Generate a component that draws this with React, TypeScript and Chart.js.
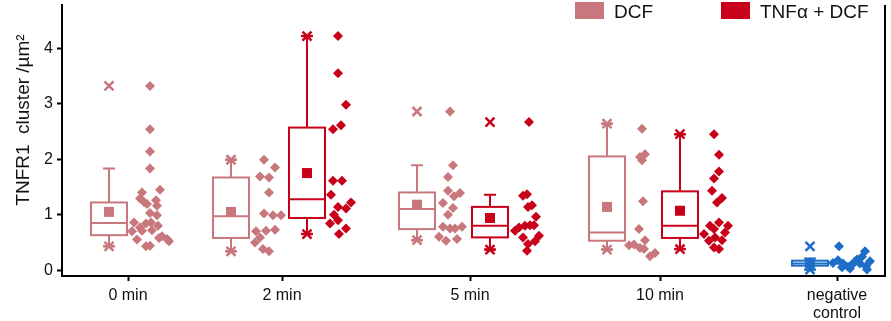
import React, { useEffect, useRef } from 'react';
import { Chart, registerables } from 'chart.js';
Chart.register(...registerables);

// ---------- data ----------
const groupLabels: (string | string[])[] = ['0 min', '2 min', '5 min', '10 min', ['negative', 'control']];
const groupTickX = [128, 282, 470, 660, 837];
const yTicks = [0, 1, 2, 3, 4];
const yTitle = 'TNFR1  cluster /µm²';
const legendLabels = ['DCF', 'TNFα + DCF'];

const COLOR_DCF = '#C8787D';
const COLOR_TNF = '#C8001A';
const COLOR_NEG = '#1E6EC8';

// box statistics (DCF: 0, 2, 5, 10 min)
const dcfBoxX = [109, 231, 417, 607];
const dcfQ1 = [0.63, 0.58, 0.74, 0.53];
const dcfMedian = [0.85, 0.97, 1.10, 0.68];
const dcfQ3 = [1.22, 1.67, 1.40, 2.05];
const dcfMean = [1.05, 1.05, 1.18, 1.14];
const dcfWhiskerLow = [0.43, 0.34, 0.54, 0.37];
const dcfWhiskerHigh = [1.83, 1.99, 1.89, 2.64];
const dcfMin = [0.43, 0.34, 0.54, 0.37];
const dcfMax = [3.32, 1.99, 2.86, 2.64];

// TNFα + DCF: 2, 5, 10 min
const tnfBoxX = [307, 490, 680];
const tnfQ1 = [0.94, 0.59, 0.58];
const tnfMedian = [1.28, 0.80, 0.80];
const tnfQ3 = [2.57, 1.14, 1.42];
const tnfMean = [1.75, 0.94, 1.07];
const tnfWhiskerLow = [0.65, 0.37, 0.38];
const tnfWhiskerHigh = [4.22, 1.36, 2.45];
const tnfMin = [0.65, 0.37, 0.38];
const tnfMax = [4.22, 2.67, 2.45];

// negative control
const negBoxX = [810];
const negQ1 = [0.08];
const negMedian = [0.12];
const negQ3 = [0.17];
const negMean = [0.13];
const negWhiskerLow = [0.01];
const negWhiskerHigh = [0.21];
const negMin = [0.01];
const negMax = [0.43];

// raw points: column centre, values, horizontal jitter
const dcf0Center = 150;
const dcf0Values = [3.32, 2.54, 2.14, 1.83, 1.45, 1.40, 1.29, 1.23, 1.26, 1.16, 1.19, 1.03, 0.99, 0.86, 0.84, 0.86, 0.80, 0.77, 0.70, 0.71, 0.72, 0.55, 0.58, 0.56, 0.61, 0.52, 0.44, 0.43];
const dcf0Jitter = [0, 0, 0, 0, 10, -8, -10, -6, 6, 7, -3, 0, 7, -16, -4, 1, 8, -10, -18, -8, 2, -13, 9, 17, 12, 19, 0, -4];

const dcf2Center = 268;
const dcf2Values = [1.99, 1.85, 1.69, 1.67, 1.40, 1.02, 0.99, 0.99, 0.73, 0.70, 0.71, 0.59, 0.50, 0.38, 0.34];
const dcf2Jitter = [-4, 7, -8, 1, 1, -4, 5, 13, 7, -12, -2, -8, -13, -5, 1];

const tnf2Center = 338;
const tnf2Values = [4.22, 3.55, 2.98, 2.54, 2.61, 1.61, 1.61, 1.36, 1.22, 1.14, 1.11, 1.00, 0.90, 0.84, 0.75, 0.65];
const tnf2Jitter = [0, 0, 8, -5, 3, -5, 4, -7, 13, 0, 8, -4, 0, -8, 8, 1];

const dcf5Center = 450;
const dcf5Values = [2.86, 1.89, 1.68, 1.43, 1.39, 1.33, 1.21, 1.12, 1.00, 0.78, 0.75, 0.75, 0.78, 0.60, 0.53, 0.56];
const dcf5Jitter = [0, 3, -2, -2, 10, 4, -7, 3, -2, -7, 0, 5, 12, -11, -4, 7];

const tnf5Center = 528;
const tnf5Values = [2.67, 1.34, 1.37, 1.14, 1.17, 0.96, 0.80, 0.81, 0.81, 0.77, 0.71, 0.59, 0.62, 0.52, 0.47, 0.35];
const tnf5Jitter = [1, -5, -1, 0, 4, 8, -3, 2, 6, -9, -13, -5, 11, 7, 0, -1];

const dcf10Center = 643;
const dcf10Values = [2.55, 2.09, 2.04, 1.98, 1.24, 0.74, 0.54, 0.45, 0.46, 0.40, 0.38, 0.25, 0.31];
const dcf10Jitter = [-1, 2, -3, -1, 0, -4, 2, -14, -9, -3, 1, 7, 12];

const tnf10Center = 716;
const tnf10Values = [2.45, 2.08, 1.78, 1.65, 1.43, 1.30, 1.22, 0.86, 0.80, 0.80, 0.74, 0.68, 0.65, 0.59, 0.54, 0.53, 0.41, 0.38];
const tnf10Jitter = [-2, 3, 3, -2, -4, 6, 1, 3, 12, -6, -2, 9, -12, -1, 6, -7, -2, 3];

const negCenter = 850;
const negValues = [0.43, 0.34, 0.13, 0.18, 0.12, 0.06, 0.12, 0.19, 0.24, 0.12, 0.07, 0.16, 0.01, 0.05, 0.03, 0.15];
const negJitter = [-11, 15, -17, -12, -7, -2, 3, 7, 12, 10, 16, 20, 17, -8, 0, 5];

// ---------- helpers ----------
type BoxSeries = {
  x: number[]; q1: number[]; med: number[]; q3: number[]; mean: number[];
  lo: number[]; hi: number[]; min: number[]; max: number[]; color: string;
};

const boxSeries: BoxSeries[] = [
  { x: dcfBoxX, q1: dcfQ1, med: dcfMedian, q3: dcfQ3, mean: dcfMean, lo: dcfWhiskerLow, hi: dcfWhiskerHigh, min: dcfMin, max: dcfMax, color: COLOR_DCF },
  { x: tnfBoxX, q1: tnfQ1, med: tnfMedian, q3: tnfQ3, mean: tnfMean, lo: tnfWhiskerLow, hi: tnfWhiskerHigh, min: tnfMin, max: tnfMax, color: COLOR_TNF },
  { x: negBoxX, q1: negQ1, med: negMedian, q3: negQ3, mean: negMean, lo: negWhiskerLow, hi: negWhiskerHigh, min: negMin, max: negMax, color: COLOR_NEG },
];

const pts = (center: number, values: number[], jitter: number[]) =>
  values.map((v, i) => ({ x: center + jitter[i], y: v }));

const FONT = '"Liberation Sans", Arial, Helvetica, sans-serif';

function drawCross(ctx: CanvasRenderingContext2D, x: number, y: number, s: number) {
  ctx.beginPath();
  ctx.moveTo(x - s, y - s); ctx.lineTo(x + s, y + s);
  ctx.moveTo(x - s, y + s); ctx.lineTo(x + s, y - s);
  ctx.stroke();
}
function drawAsterisk(ctx: CanvasRenderingContext2D, x: number, y: number, s: number) {
  drawCross(ctx, x, y, s);
  ctx.beginPath();
  ctx.moveTo(x - s - 1, y); ctx.lineTo(x + s + 1, y);
  ctx.stroke();
}

const boxPlugin = {
  id: 'boxes',
  beforeDatasetsDraw(chart: any) {
    const { ctx, scales } = chart;
    const xs = scales.x, ys = scales.y;
    ctx.save();
    for (const s of boxSeries) {
      for (let i = 0; i < s.x.length; i++) {
        const cx = xs.getPixelForValue(s.x[i]);
        const half = xs.getPixelForValue(s.x[i] + 18) - cx;
        const capHalf = xs.getPixelForValue(s.x[i] + 6) - cx;
        const yq1 = ys.getPixelForValue(s.q1[i]);
        const yq3 = ys.getPixelForValue(s.q3[i]);
        const ymed = ys.getPixelForValue(s.med[i]);
        const ylo = ys.getPixelForValue(s.lo[i]);
        const yhi = ys.getPixelForValue(s.hi[i]);
        const ymean = ys.getPixelForValue(s.mean[i]);
        ctx.strokeStyle = s.color;
        ctx.fillStyle = s.color;
        ctx.lineWidth = 2;
        ctx.strokeRect(cx - half, yq3, 2 * half, yq1 - yq3);
        ctx.beginPath();
        ctx.moveTo(cx - half, ymed); ctx.lineTo(cx + half, ymed);
        ctx.moveTo(cx, yq3); ctx.lineTo(cx, yhi);
        ctx.moveTo(cx, yq1); ctx.lineTo(cx, ylo);
        ctx.moveTo(cx - capHalf, yhi); ctx.lineTo(cx + capHalf, yhi);
        ctx.moveTo(cx - capHalf, ylo); ctx.lineTo(cx + capHalf, ylo);
        ctx.stroke();
        ctx.fillRect(cx - 5, ymean - 5, 10, 10);
        ctx.lineWidth = 2.5;
        const ymin = ys.getPixelForValue(s.min[i]);
        const ymax = ys.getPixelForValue(s.max[i]);
        if (s.min[i] === s.lo[i]) drawAsterisk(ctx, cx, ymin, 4.5); else drawCross(ctx, cx, ymin, 4.5);
        if (s.max[i] === s.hi[i]) drawAsterisk(ctx, cx, ymax, 4.5); else drawCross(ctx, cx, ymax, 4.5);
      }
    }
    ctx.restore();
  },
  afterDraw(chart: any) {
    const { ctx, chartArea } = chart;
    ctx.save();
    // right frame line
    ctx.strokeStyle = '#000';
    ctx.lineWidth = 2;
    ctx.beginPath();
    ctx.moveTo(chartArea.right, chartArea.top);
    ctx.lineTo(chartArea.right, chartArea.bottom + 1);
    ctx.stroke();
    // y title
    ctx.fillStyle = '#111';
    ctx.font = `19px ${FONT}`;
    ctx.textAlign = 'center';
    ctx.textBaseline = 'alphabetic';
    ctx.translate(29, 120);
    ctx.rotate(-Math.PI / 2);
    ctx.fillText(yTitle, 0, 0);
    ctx.restore();
    // legend
    ctx.save();
    ctx.font = `19px ${FONT}`;
    ctx.textBaseline = 'alphabetic';
    ctx.textAlign = 'left';
    const legendColors = [COLOR_DCF, COLOR_TNF];
    const swatchX = [575, 721];
    legendLabels.forEach((lab, i) => {
      ctx.fillStyle = legendColors[i];
      ctx.fillRect(swatchX[i], 2, 29, 17);
      ctx.fillStyle = '#111';
      ctx.fillText(lab, swatchX[i] + 39, 18);
    });
    ctx.restore();
  },
};

export default function App() {
  const ref = useRef<HTMLCanvasElement>(null);
  useEffect(() => {
    if (!ref.current) return;
    const scatterDs = (data: any[], color: string) => ({
      type: 'scatter' as const,
      data,
      backgroundColor: color,
      borderColor: color,
      borderWidth: 0,
      pointStyle: 'rectRot',
      pointRadius: 5,
      pointHoverRadius: 5,
    });
    const chart = new Chart(ref.current, {
      type: 'scatter',
      data: {
        datasets: [
          scatterDs(pts(dcf0Center, dcf0Values, dcf0Jitter), COLOR_DCF),
          scatterDs(pts(dcf2Center, dcf2Values, dcf2Jitter), COLOR_DCF),
          scatterDs(pts(tnf2Center, tnf2Values, tnf2Jitter), COLOR_TNF),
          scatterDs(pts(dcf5Center, dcf5Values, dcf5Jitter), COLOR_DCF),
          scatterDs(pts(tnf5Center, tnf5Values, tnf5Jitter), COLOR_TNF),
          scatterDs(pts(dcf10Center, dcf10Values, dcf10Jitter), COLOR_DCF),
          scatterDs(pts(tnf10Center, tnf10Values, tnf10Jitter), COLOR_TNF),
          scatterDs(pts(negCenter, negValues, negJitter), COLOR_NEG),
        ],
      },
      options: {
        animation: false,
        responsive: false,
        events: [],
        layout: { padding: { left: 0, right: 6, top: 0, bottom: 0 } },
        plugins: { legend: { display: false }, tooltip: { enabled: false } },
        scales: {
          x: {
            type: 'linear',
            min: 62,
            max: 885,
            afterBuildTicks: (s: any) => { s.ticks = groupTickX.map((v) => ({ value: v })); },
            afterFit: (s: any) => { s.height = 45; s.paddingLeft = 0; s.paddingRight = 0; },
            ticks: {
              autoSkip: false,
              maxRotation: 0,
              padding: 6,
              color: '#111',
              font: { family: FONT, size: 16, lineHeight: 1.1 },
              callback: (_v: any, i: number) => groupLabels[i] as any,
            },
            grid: { display: true, drawOnChartArea: false, drawTicks: true, tickLength: 5, tickColor: '#000', tickWidth: 2, color: 'rgba(0,0,0,0)' },
            border: { display: true, color: '#000', width: 2 },
          },
          y: {
            type: 'linear',
            min: -0.106,
            max: 4.78,
            afterBuildTicks: (s: any) => { s.ticks = yTicks.map((v) => ({ value: v })); },
            afterFit: (s: any) => { s.width = 62; s.paddingTop = 0; s.paddingBottom = 0; },
            ticks: {
              padding: 4,
              color: '#111',
              font: { family: FONT, size: 16 },
              callback: (v: any) => String(v),
            },
            grid: { display: true, drawOnChartArea: false, drawTicks: true, tickLength: 5, tickColor: '#000', tickWidth: 2, color: 'rgba(0,0,0,0)' },
            border: { display: true, color: '#000', width: 2 },
          },
        },
      },
      plugins: [boxPlugin],
    } as any);
    return () => chart.destroy();
  }, []);
  return (
    <div style={{ position: 'absolute', left: 0, top: 0, width: 891, height: 321, background: '#fff' }}>
      <canvas ref={ref} width={891} height={321} style={{ width: 891, height: 321 }} />
    </div>
  );
}
